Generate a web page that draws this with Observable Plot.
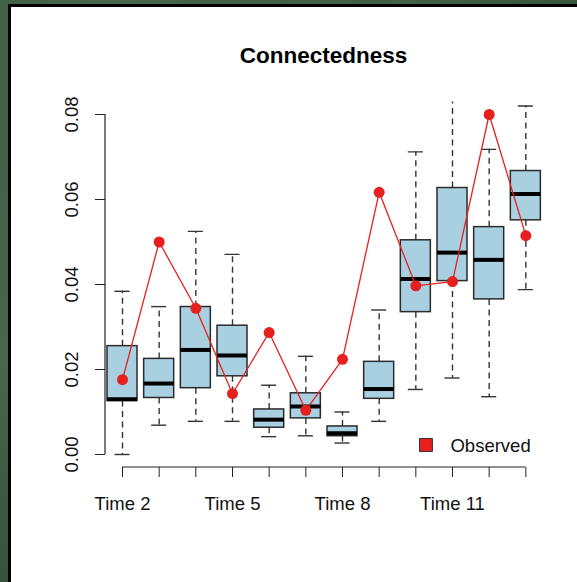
<!DOCTYPE html>
<html>
<head>
<meta charset="utf-8">
<script src="https://cdn.jsdelivr.net/npm/d3@7"></script>
<script src="https://cdn.jsdelivr.net/npm/@observablehq/plot@0.6"></script>
<style>
  html, body { margin: 0; padding: 0; }
  body {
    width: 577px; height: 582px; overflow: hidden; position: relative;
    background-color: #35533a;
    background-image:
      radial-gradient(circle at 20% 10%, rgba(120,150,120,0.35), transparent 40%),
      radial-gradient(circle at 70% 0%, rgba(90,120,90,0.35), transparent 30%),
      radial-gradient(circle at 0% 60%, rgba(110,140,110,0.35), transparent 35%);
  }
  #panel {
    position: absolute; left: 8px; top: 4px; right: 0; bottom: 0;
    border-top: 3.5px solid #000; border-left: 3.5px solid #000;
    background: #fff;
  }
  #chart { position: absolute; left: 0; top: 0; }
</style>
</head>
<body>
<div id="panel"></div>
<div id="chart"></div>
<script>
// Connectedness per time step: simulated distribution (box stats) and observed value
const times = ["Time 2", "Time 3", "Time 4", "Time 5", "Time 6", "Time 7",
               "Time 8", "Time 9", "Time 10", "Time 11", "Time 12", "Time 13"];
const whiskerLow  = [0.0000, 0.0069, 0.0078, 0.0078, 0.0042, 0.0044, 0.0027, 0.0078, 0.0153, 0.0180, 0.0136, 0.0388];
const q1          = [0.0126, 0.0133, 0.0156, 0.0184, 0.0063, 0.0085, 0.0043, 0.0131, 0.0335, 0.0408, 0.0365, 0.0551];
const median      = [0.0130, 0.0167, 0.0246, 0.0233, 0.0082, 0.0113, 0.0050, 0.0154, 0.0413, 0.0475, 0.0458, 0.0613];
const q3          = [0.0255, 0.0225, 0.0347, 0.0303, 0.0106, 0.0144, 0.0066, 0.0218, 0.0504, 0.0627, 0.0535, 0.0667];
const whiskerHigh = [0.0384, 0.0348, 0.0525, 0.0471, 0.0163, 0.0231, 0.0100, 0.0340, 0.0712, 0.0840, 0.0718, 0.0820];
const observed    = [0.0176, 0.0500, 0.0344, 0.0143, 0.0287, 0.0104, 0.0224, 0.0617, 0.0397, 0.0407, 0.0800, 0.0515];
const yTicks = [0, 0.02, 0.04, 0.06, 0.08];

const rows = times.map((t, i) => ({
  time: t, lo: whiskerLow[i], q1: q1[i], med: median[i], q3: q3[i], hi: whiskerHigh[i], obs: observed[i]
}));

const red = "#e6201e";
const font = "'Liberation Sans', Arial, Helvetica, sans-serif";

// axis lines spanning the tick range only
const axisLines = (index, scales, values, dims) => {
  const g = d3.create("svg:g").attr("stroke", "#222").attr("stroke-width", 1.2).attr("fill", "none");
  const bw = typeof scales.x.bandwidth === "function" ? scales.x.bandwidth() : 0;
  const xb = dims.height - dims.marginBottom;
  g.append("line")
    .attr("x1", scales.x(times[0]) + bw / 2).attr("x2", scales.x(times[times.length - 1]) + bw / 2)
    .attr("y1", xb).attr("y2", xb);
  g.append("line")
    .attr("x1", dims.marginLeft).attr("x2", dims.marginLeft)
    .attr("y1", scales.y(yTicks[0])).attr("y2", scales.y(yTicks[yTicks.length - 1]));
  return g.node();
};

const dash = "6,4.5";

const chart = Plot.plot({
  width: 577,
  height: 582,
  marginLeft: 105,
  marginRight: 33.33,
  marginTop: 101.5,
  marginBottom: 115,
  style: { background: "transparent", fontFamily: font, color: "#111" },
  x: { type: "band", domain: times, range: [103.67, 543.67], padding: 0, round: false },
  y: { domain: [0, 0.08], range: [454, 114] },
  marks: [
    // whiskers
    Plot.ruleX(rows, { x: "time", y1: "q3", y2: "hi", stroke: "#333", strokeWidth: 1.4, strokeDasharray: dash, clip: true }),
    Plot.ruleX(rows, { x: "time", y1: "q1", y2: "lo", stroke: "#333", strokeWidth: 1.4, strokeDasharray: dash, clip: true }),
    Plot.tickY(rows, { x: "time", y: "hi", insetLeft: 10.8, insetRight: 10.8, stroke: "#333", strokeWidth: 1.4, clip: true }),
    Plot.tickY(rows, { x: "time", y: "lo", insetLeft: 10.8, insetRight: 10.8, stroke: "#333", strokeWidth: 1.4, clip: true }),
    // boxes
    Plot.barY(rows, { x: "time", y1: "q1", y2: "q3", insetLeft: 3.33, insetRight: 3.33, fill: "#a8d0e0", stroke: "#2b2b2b", strokeWidth: 1.5 }),
    Plot.tickY(rows, { x: "time", y: "med", insetLeft: 3.33, insetRight: 3.33, stroke: "#000", strokeWidth: 4 }),
    // observed series
    Plot.line(rows, { x: "time", y: "obs", stroke: red, strokeWidth: 1.3 }),
    Plot.dot(rows, { x: "time", y: "obs", r: 5.5, fill: red }),
    // axes
    axisLines,
    Plot.axisY({ ticks: yTicks, tickSize: 10, tickFormat: () => "", label: null, stroke: "#222" }),
    Plot.text(yTicks, { y: d => d, text: d3.format(".2f"), frameAnchor: "left", dx: -33, rotate: -90,
      textAnchor: "middle", lineAnchor: "middle", fontSize: 18.5, fill: "#111" }),
    Plot.axisX({ ticks: times, tickSize: 10, tickPadding: 19, label: null, fontSize: 18.5, stroke: "#222",
      tickFormat: d => (times.indexOf(d) % 3 === 0 ? d : "") }),
    // title
    Plot.text(["Connectedness"], { frameAnchor: "top", dx: -1.3, dy: -46.5, lineAnchor: "middle",
      fontSize: 22.5, fontWeight: "bold", fill: "#000" }),
    // legend
    Plot.dot(["Observed"], { frameAnchor: "bottom-right", dx: -118.2, dy: -22.5, symbol: "square", r: 7.3,
      fill: red, stroke: "#333", strokeWidth: 1 }),
    Plot.text(["Observed"], { frameAnchor: "bottom-right", dx: -93.7, dy: -21.9, textAnchor: "start",
      lineAnchor: "middle", fontSize: 18.5, fill: "#111" })
  ]
});

document.getElementById("chart").appendChild(chart);
</script>
</body>
</html>
